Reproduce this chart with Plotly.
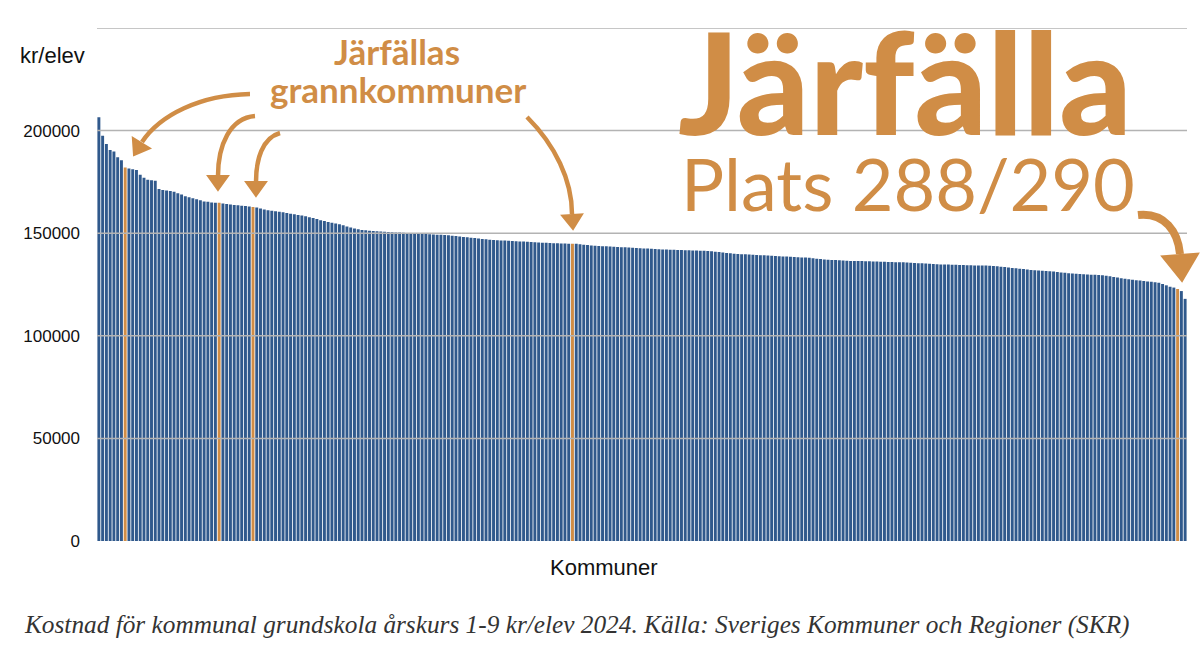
import math
import plotly.graph_objects as go

# kostnad kr/elev, sorterat fallande (plats 1..290)
kostnad = [
    206500, 197500, 193500, 190500, 189800, 187000, 185500, 182000, 181500, 181200,
    180800, 178500, 177000, 176000, 175800, 175500, 171500, 171000, 170800, 170600,
    170200, 169500, 168800, 168000, 167500, 167000, 166500, 166000, 165500, 165300,
    165000, 164900, 164800, 164500, 164200, 164000, 163800, 163600, 163400, 163200,
    163000, 162800, 162500, 162000, 161500, 161200, 160900, 160700, 160500, 160200,
    159800, 159500, 159200, 158900, 158600, 158200, 157800, 157400, 156900, 156300,
    155900, 155500, 155100, 154700, 154400, 153900, 153300, 152800, 152300, 151900,
    151600, 151400, 151200, 151100, 150900, 150800, 150700, 150600, 150500, 150400,
    150300, 150200, 150100, 150000, 149900, 149800, 149700, 149600, 149500, 149400,
    149300, 149200, 149100, 149000, 148800, 148600, 148400, 148200, 148000, 147800,
    147600, 147400, 147200, 147000, 146800, 146700, 146600, 146500, 146400, 146300,
    146200, 146100, 146000, 145900, 145800, 145700, 145600, 145500, 145400, 145300,
    145200, 145100, 145100, 145000, 145000, 144900, 144900, 144800, 144600, 144400,
    144200, 144000, 143900, 143800, 143700, 143600, 143500, 143400, 143300, 143200,
    143100, 143000, 142900, 142800, 142700, 142600, 142500, 142400, 142300, 142200,
    142100, 142000, 141900, 141900, 141800, 141800, 141700, 141700, 141600, 141600,
    141500, 141400, 141300, 141200, 141000, 140800, 140600, 140400, 140200, 140000,
    139900, 139800, 139700, 139600, 139500, 139400, 139300, 139200, 139100, 139000,
    138900, 138800, 138700, 138600, 138500, 138400, 138300, 138200, 138100, 138000,
    137800, 137600, 137400, 137200, 137100, 137000, 136900, 136800, 136700, 136600,
    136500, 136500, 136400, 136400, 136300, 136300, 136200, 136200, 136100, 136100,
    136000, 136000, 135900, 135900, 135800, 135700, 135600, 135500, 135400, 135300,
    135200, 135100, 135000, 134900, 134800, 134700, 134700, 134600, 134600, 134500,
    134500, 134400, 134400, 134300, 134300, 134200, 134200, 134100, 134000, 133900,
    133700, 133500, 133300, 133100, 132900, 132700, 132500, 132300, 132100, 131900,
    131800, 131700, 131600, 131500, 131300, 131100, 130900, 130700, 130500, 130300,
    130200, 130100, 130000, 129900, 129800, 129700, 129600, 129500, 129300, 129000,
    128700, 128400, 128100, 127800, 127500, 127300, 127100, 126900, 126700, 126500,
    126300, 126100, 125800, 125300, 124600, 123900, 123500, 122800, 121800, 118000,
]
plats = list(range(1, len(kostnad) + 1))

# grannkommuner + Järfälla (plats)
markerade = [8, 33, 42, 127, 288]

ytick_vals = [0, 50000, 100000, 150000, 200000]
grid_vals = [50000, 100000, 150000, 200000, 250000]

BLUE = "#30598c"
ORANGE = "#d08d46"

colors = [ORANGE if p in markerade else BLUE for p in plats]

fig = go.Figure()
fig.add_trace(go.Bar(x=plats, y=kostnad, marker_color=colors, marker_line_width=0))

# plot area in pixels
L, R, T, B = 97, 1187, 28, 541


def px(x, y):
    return (x - L) / (R - L), (B - y) / (B - T)


def arrow(pts, tip, w, head_w, head_l):
    # pts: 4 control points of a cubic (pixels), tip of head
    p = [px(*q) for q in pts]
    path = "M {},{} C {},{} {},{} {},{}".format(*[c for q in p for c in q])
    shapes.append(dict(type="path", xref="paper", yref="paper", path=path,
                       line=dict(color=ORANGE, width=w), layer="above"))
    ex, ey = pts[3]
    dx, dy = tip[0] - ex, tip[1] - ey
    n = math.hypot(dx, dy)
    dx, dy = dx / n, dy / n
    bx, by = tip[0] - dx * head_l, tip[1] - dy * head_l
    a = px(bx + dy * head_w, by - dx * head_w)
    b = px(bx - dy * head_w, by + dx * head_w)
    t = px(*tip)
    hp = "M {},{} L {},{} L {},{} Z".format(t[0], t[1], a[0], a[1], b[0], b[1])
    shapes.append(dict(type="path", xref="paper", yref="paper", path=hp,
                       fillcolor=ORANGE, line=dict(color=ORANGE, width=2), layer="above"))


shapes = []
for g in grid_vals:
    shapes.append(dict(type="line", xref="paper", yref="y", x0=0, x1=1, y0=g, y1=g,
                       line=dict(color="#b3b3b3", width=1.5), layer="above"))

arrow([(250, 94), (200, 95), (160, 115), (142, 142)], (134, 155), 4.5, 10, 14)
arrow([(255, 116), (230, 118), (218, 145), (218, 176)], (218, 190), 4.5, 10, 14)
arrow([(280, 133), (262, 138), (256, 160), (256, 182)], (256, 196), 4.5, 10, 14)
arrow([(527, 117), (555, 145), (572, 180), (572, 214)], (573, 229), 4.5, 10, 14)
arrow([(1138, 215), (1165, 212), (1178, 232), (1180, 254)], (1182, 281), 8, 18, 26)

annotations = [
    dict(text="Järfällas", x=px(397, 0)[0], y=px(0, 51)[1],
         font=dict(family="Lato", size=35, color=ORANGE, weight="bold")),
    dict(text="grannkommuner", x=px(398, 0)[0], y=px(0, 89)[1],
         font=dict(family="Lato", size=35, color=ORANGE, weight="bold")),
    dict(text="Järfälla", x=px(905, 0)[0], y=px(0, 80)[1],
         font=dict(family="Lato", size=142, color=ORANGE, weight=900)),
    dict(text="Plats 288/290", x=px(908, 0)[0], y=px(0, 183)[1],
         font=dict(family="Lato", size=72, color=ORANGE)),
    dict(text="kr/elev", x=px(52, 0)[0], y=px(0, 55)[1],
         font=dict(family="Liberation Sans", size=22, color="#111111")),
    dict(text="Kommuner", x=px(604, 0)[0], y=px(0, 567)[1],
         font=dict(family="Liberation Sans", size=22, color="#111111")),
    dict(text="<i>Kostnad för kommunal grundskola årskurs 1-9 kr/elev 2024. "
              "Källa: Sveriges Kommuner och Regioner (SKR)</i>",
         x=px(22, 0)[0], y=px(0, 624)[1], xanchor="left",
         font=dict(family="Liberation Serif", size=25.3, color="#333333")),
]
for a in annotations:
    a.update(xref="paper", yref="paper", showarrow=False)
    a.setdefault("xanchor", "center")
    a["yanchor"] = "middle"

fig.update_layout(
    width=1200, height=663,
    margin=dict(l=L, r=1200 - R, t=T, b=663 - B),
    paper_bgcolor="white", plot_bgcolor="white",
    bargap=0.22, showlegend=False,
    shapes=shapes, annotations=annotations,
    xaxis=dict(range=[0.5, len(kostnad) + 0.5], showticklabels=False, showgrid=False,
               zeroline=False, ticks=""),
    yaxis=dict(range=[0, 250000], tickvals=ytick_vals, ticktext=[str(v) for v in ytick_vals],
               showgrid=False, zeroline=False, ticks="", ticklabelstandoff=16,
               tickfont=dict(family="Liberation Sans", size=17, color="#111111")),
)

fig.write_html("out.html", config={"displayModeBar": False},
               post_script="document.body.style.margin='0';")
